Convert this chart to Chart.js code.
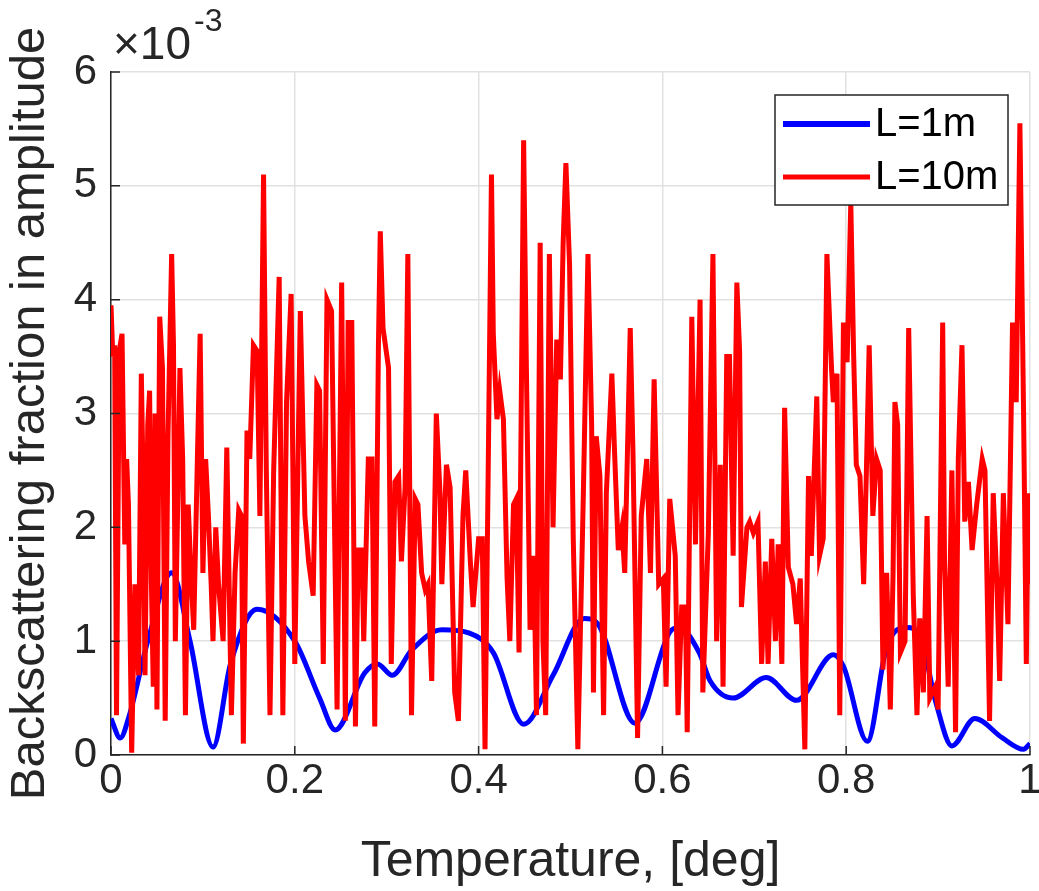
<!DOCTYPE html>
<html>
<head>
<meta charset="utf-8">
<script src="https://cdn.jsdelivr.net/npm/chart.js@4.4.1/dist/chart.umd.min.js"></script>
<style>
  html, body { margin: 0; padding: 0; background: #fff; }
  #wrap { width: 1039px; height: 891px; }
</style>
</head>
<body>
<div id="wrap"><canvas id="chart" width="1039" height="891"></canvas></div>
<script>
// values are in units of 1e-3 (axis shows x10^-3)
const seriesNames = ['L=1m', 'L=10m']
const xTicks = [0, 0.2, 0.4, 0.6, 0.8, 1]
const yTicks = [0, 1, 2, 3, 4, 5, 6]

// L=1m (smooth)
const blueX = [0, 0.01, 0.02, 0.04, 0.066, 0.086, 0.111, 0.13, 0.159, 0.2, 0.227, 0.244, 0.276, 0.29, 0.306,
  0.327, 0.36, 0.39, 0.416, 0.449, 0.481, 0.515, 0.53, 0.57, 0.608, 0.618, 0.64, 0.652, 0.677, 0.713,
  0.746, 0.786, 0.797, 0.823, 0.844, 0.866, 0.88, 0.898, 0.915, 0.94, 0.97, 0.993, 1.0]
const blueY = [0.32, 0.15, 0.35, 1.0, 1.6, 1.0, 0.07, 0.8, 1.28, 1.0, 0.5, 0.22, 0.72, 0.8, 0.7,
  0.92, 1.1, 1.07, 0.9, 0.27, 0.7, 1.2, 1.15, 0.28, 1.08, 1.12, 0.9, 0.65, 0.5, 0.68,
  0.48, 0.88, 0.78, 0.12, 0.95, 1.12, 1.05, 0.45, 0.08, 0.32, 0.15, 0.05, 0.1]

// L=10m (noisy)
const redX = [0, 0.002, 0.004, 0.006, 0.009, 0.012, 0.015, 0.017, 0.019, 0.0225, 0.026, 0.03, 0.033, 0.035, 0.037,
  0.04, 0.042, 0.044, 0.046, 0.048, 0.05, 0.053, 0.056, 0.059, 0.062, 0.066, 0.068, 0.07, 0.073, 0.075,
  0.078, 0.081, 0.084, 0.087, 0.09, 0.094, 0.097, 0.1, 0.103, 0.106, 0.109, 0.111, 0.114, 0.117, 0.122,
  0.126, 0.131, 0.135, 0.139, 0.142, 0.144, 0.148, 0.151, 0.155, 0.159, 0.162, 0.166, 0.169, 0.173, 0.177,
  0.183, 0.187, 0.191, 0.196, 0.2, 0.206, 0.211, 0.215, 0.22, 0.224, 0.227, 0.231, 0.235, 0.24, 0.246,
  0.251, 0.255, 0.258, 0.262, 0.266, 0.269, 0.273, 0.275, 0.28, 0.284, 0.287, 0.291, 0.293, 0.296, 0.302,
  0.305, 0.309, 0.313, 0.316, 0.32, 0.323, 0.327, 0.331, 0.334, 0.338, 0.342, 0.345, 0.349, 0.354, 0.358,
  0.36, 0.365, 0.369, 0.374, 0.378, 0.383, 0.386, 0.391, 0.394, 0.4, 0.404, 0.407, 0.411, 0.414, 0.416,
  0.42, 0.423, 0.427, 0.431, 0.434, 0.438, 0.441, 0.444, 0.449, 0.452, 0.456, 0.46, 0.463, 0.467, 0.47,
  0.473, 0.477, 0.481, 0.485, 0.489, 0.492, 0.495, 0.499, 0.503, 0.508, 0.514, 0.519, 0.523, 0.525, 0.528,
  0.532, 0.536, 0.539, 0.545, 0.548, 0.552, 0.556, 0.559, 0.565, 0.568, 0.573, 0.577, 0.583, 0.587, 0.591,
  0.596, 0.601, 0.604, 0.608, 0.614, 0.617, 0.621, 0.625, 0.627, 0.632, 0.636, 0.641, 0.644, 0.65, 0.655,
  0.659, 0.663, 0.666, 0.67, 0.673, 0.677, 0.681, 0.684, 0.686, 0.692, 0.695, 0.699, 0.704, 0.708, 0.712,
  0.715, 0.719, 0.723, 0.726, 0.73, 0.733, 0.737, 0.742, 0.746, 0.75, 0.755, 0.759, 0.762, 0.768, 0.771,
  0.775, 0.779, 0.784, 0.786, 0.79, 0.793, 0.797, 0.801, 0.805, 0.808, 0.811, 0.815, 0.819, 0.822, 0.825,
  0.829, 0.833, 0.837, 0.84, 0.844, 0.848, 0.851, 0.853, 0.856, 0.859, 0.864, 0.868, 0.873, 0.877, 0.88,
  0.884, 0.888, 0.891, 0.897, 0.9, 0.905, 0.907, 0.911, 0.915, 0.919, 0.922, 0.926, 0.929, 0.933, 0.937,
  0.942, 0.948, 0.951, 0.956, 0.96, 0.964, 0.967, 0.971, 0.976, 0.981, 0.985, 0.989, 0.993, 0.996, 0.998, 1.0]
const redY = [3.95, 3.5, 3.6, 0.35, 3.55, 3.7, 1.85, 2.6, 2.2, 0.02, 1.5, 0.7, 3.35, 2.4, 0.7,
  2.9, 3.2, 1.5, 0.6, 3.0, 0.4, 3.85, 3.4, 0.3, 2.8, 4.4, 3.6, 1.0, 2.4, 3.4,
  2.6, 0.35, 2.2, 1.6, 1.1, 2.6, 3.7, 1.6, 2.6, 2.1, 1.5, 1.0, 2.0, 1.5, 1.0,
  2.7, 0.35, 1.6, 2.15, 2.1, 0.1, 2.85, 2.6, 3.6, 3.55, 2.1, 5.1, 2.5, 0.35, 2.5,
  4.2, 0.35, 3.1, 4.05, 0.8, 3.9, 2.1, 1.7, 1.4, 3.25, 3.2, 0.8, 4.0, 3.9, 0.4,
  4.15, 0.3, 3.8, 3.8, 0.25, 1.8, 1.8, 1.0, 2.6, 2.6, 0.25, 3.6, 4.6, 3.75, 3.4,
  0.8, 2.4, 2.45, 1.7, 2.35, 4.4, 0.35, 2.25, 2.2, 1.6, 1.45, 1.5, 0.65, 3.0, 2.3,
  1.5, 2.55, 2.35, 0.55, 0.3, 2.1, 2.5, 1.7, 1.3, 1.9, 1.9, 0.05, 2.9, 5.1, 3.7,
  2.95, 3.2, 2.95, 1.55, 1.0, 2.2, 2.25, 0.9, 5.4, 3.4, 1.1, 1.75, 0.35, 4.5, 1.0,
  0.35, 4.4, 2.0, 3.65, 3.3, 4.5, 5.2, 4.3, 1.9, 0.05, 2.3, 4.4, 2.9, 0.55, 2.8,
  2.45, 0.35, 2.3, 3.35, 2.65, 1.8, 2.0, 1.6, 3.75, 2.65, 0.15, 2.1, 2.6, 1.6, 3.3,
  1.5, 1.55, 0.6, 2.25, 1.75, 0.35, 1.3, 1.3, 0.2, 3.85, 1.85, 4.0, 0.55, 1.95, 4.4,
  1.0, 2.55, 0.6, 3.5, 3.5, 1.75, 4.15, 3.55, 1.3, 2.0, 2.05, 1.95, 2.05, 0.8, 1.7,
  0.8, 1.9, 1.0, 1.85, 0.8, 3.05, 1.65, 1.5, 1.15, 1.55, 0.05, 2.45, 1.75, 3.15, 1.75,
  1.9, 4.4, 3.4, 3.1, 3.35, 0.35, 3.8, 3.45, 4.85, 3.55, 2.55, 2.45, 1.5, 2.5, 3.6,
  2.1, 2.6, 2.5, 0.75, 1.6, 0.4, 1.6, 3.1, 2.9, 0.9, 1.0, 3.75, 1.4, 0.35, 1.2,
  0.55, 2.1, 0.5, 0.6, 0.4, 3.8, 1.7, 0.6, 2.5, 0.2, 2.6, 3.6, 2.05, 2.4, 1.8,
  2.2, 2.6, 2.5, 0.3, 2.3, 1.5, 0.65, 2.3, 1.15, 3.8, 3.1, 5.55, 3.0, 0.8, 2.3, 1.5]

const blueColor = '#0000ff'
const redColor = '#ff0000'
const axisColor = '#262626'
const fontFamily = "'Liberation Sans', Arial, Helvetica, sans-serif"

const toPoints = (xs, ys) => xs.map((x, i) => ({ x: x, y: ys[i] }))

// inward ticks, x10^-3 exponent label and the boxed legend
const extrasPlugin = {
  id: 'extras',
  afterDraw(chart) {
    const ctx = chart.ctx
    const area = chart.chartArea
    const xs = chart.scales.x
    const ys = chart.scales.y
    ctx.save()

    ctx.strokeStyle = axisColor
    ctx.lineWidth = 1.5
    ctx.beginPath()
    xTicks.forEach(v => {
      const px = xs.getPixelForValue(v)
      ctx.moveTo(px, area.bottom)
      ctx.lineTo(px, area.bottom - 9)
    })
    yTicks.forEach(v => {
      const py = ys.getPixelForValue(v)
      ctx.moveTo(area.left, py)
      ctx.lineTo(area.left + 9, py)
    })
    ctx.stroke()

    // exponent
    ctx.fillStyle = axisColor
    ctx.textBaseline = 'middle'
    ctx.textAlign = 'left'
    ctx.font = '46px ' + fontFamily
    ctx.fillText('\u00d710', area.left + 2, area.top - 26)
    const w = ctx.measureText('\u00d710').width
    ctx.font = '32px ' + fontFamily
    ctx.fillText('-3', area.left + 5 + w, area.top - 50)

    // legend
    const bx = area.right - 255, by = area.top + 23, bw = 233, bh = 110
    ctx.fillStyle = '#ffffff'
    ctx.fillRect(bx, by, bw, bh)
    ctx.strokeStyle = axisColor
    ctx.lineWidth = 1.5
    ctx.strokeRect(bx, by, bw, bh)
    const rows = [
      { name: seriesNames[0], color: blueColor, width: 6, y: by + 29 },
      { name: seriesNames[1], color: redColor, width: 5, y: by + 82 }
    ]
    rows.forEach(r => {
      ctx.strokeStyle = r.color
      ctx.lineWidth = r.width
      ctx.beginPath()
      ctx.moveTo(bx + 8, r.y)
      ctx.lineTo(bx + 95, r.y)
      ctx.stroke()
      ctx.fillStyle = '#000000'
      ctx.font = '40px ' + fontFamily
      ctx.textBaseline = 'middle'
      ctx.fillText(r.name, bx + 100, r.y + 1)
    })
    ctx.restore()
  }
}

const ctx = document.getElementById('chart').getContext('2d')
new Chart(ctx, {
  type: 'scatter',
  data: {
    datasets: [
      {
        label: seriesNames[0],
        data: toPoints(blueX, blueY),
        showLine: true,
        borderColor: blueColor,
        borderWidth: 5,
        pointRadius: 0,
        cubicInterpolationMode: 'monotone',
        order: 1
      },
      {
        label: seriesNames[1],
        data: toPoints(redX, redY),
        showLine: true,
        borderColor: redColor,
        borderWidth: 5,
        pointRadius: 0,
        tension: 0,
        order: 0
      }
    ]
  },
  options: {
    responsive: false,
    animation: false,
    layout: { padding: { left: 0, right: 9, top: 72, bottom: 0 } },
    plugins: {
      legend: { display: false },
      tooltip: { enabled: false }
    },
    scales: {
      x: {
        type: 'linear',
        min: 0,
        max: 1,
        afterFit: s => { s.height = 136; s.paddingLeft = 0; s.paddingRight = 0 },
        afterBuildTicks: s => { s.ticks = xTicks.map(v => ({ value: v })) },
        grid: { color: '#e1e1e1', lineWidth: 1.5, drawTicks: false },
        border: { display: true, color: axisColor, width: 1.5 },
        ticks: {
          color: axisColor,
          padding: 1,
          maxRotation: 0,
          font: { family: fontFamily, size: 42 },
          callback: v => String(Number(v.toFixed(2)))
        },
        title: {
          display: true,
          text: 'Temperature, [deg]',
          color: axisColor,
          padding: { bottom: 4 },
          font: { family: fontFamily, size: 50, lineHeight: 1.0 }
        }
      },
      y: {
        type: 'linear',
        min: 0,
        max: 6,
        afterFit: s => { s.width = 111; s.paddingTop = 0; s.paddingBottom = 0 },
        afterBuildTicks: s => { s.ticks = yTicks.map(v => ({ value: v })) },
        grid: { color: '#e1e1e1', lineWidth: 1.5, drawTicks: false },
        border: { display: true, color: axisColor, width: 1.5 },
        ticks: {
          color: axisColor,
          padding: 14,
          font: { family: fontFamily, size: 42 }
        },
        title: {
          display: true,
          text: 'Backscattering fraction in amplitude',
          color: axisColor,
          padding: { top: 6 },
          font: { family: fontFamily, size: 49, lineHeight: 1.0 }
        }
      }
    }
  },
  plugins: [extrasPlugin]
})
</script>
</body>
</html>
